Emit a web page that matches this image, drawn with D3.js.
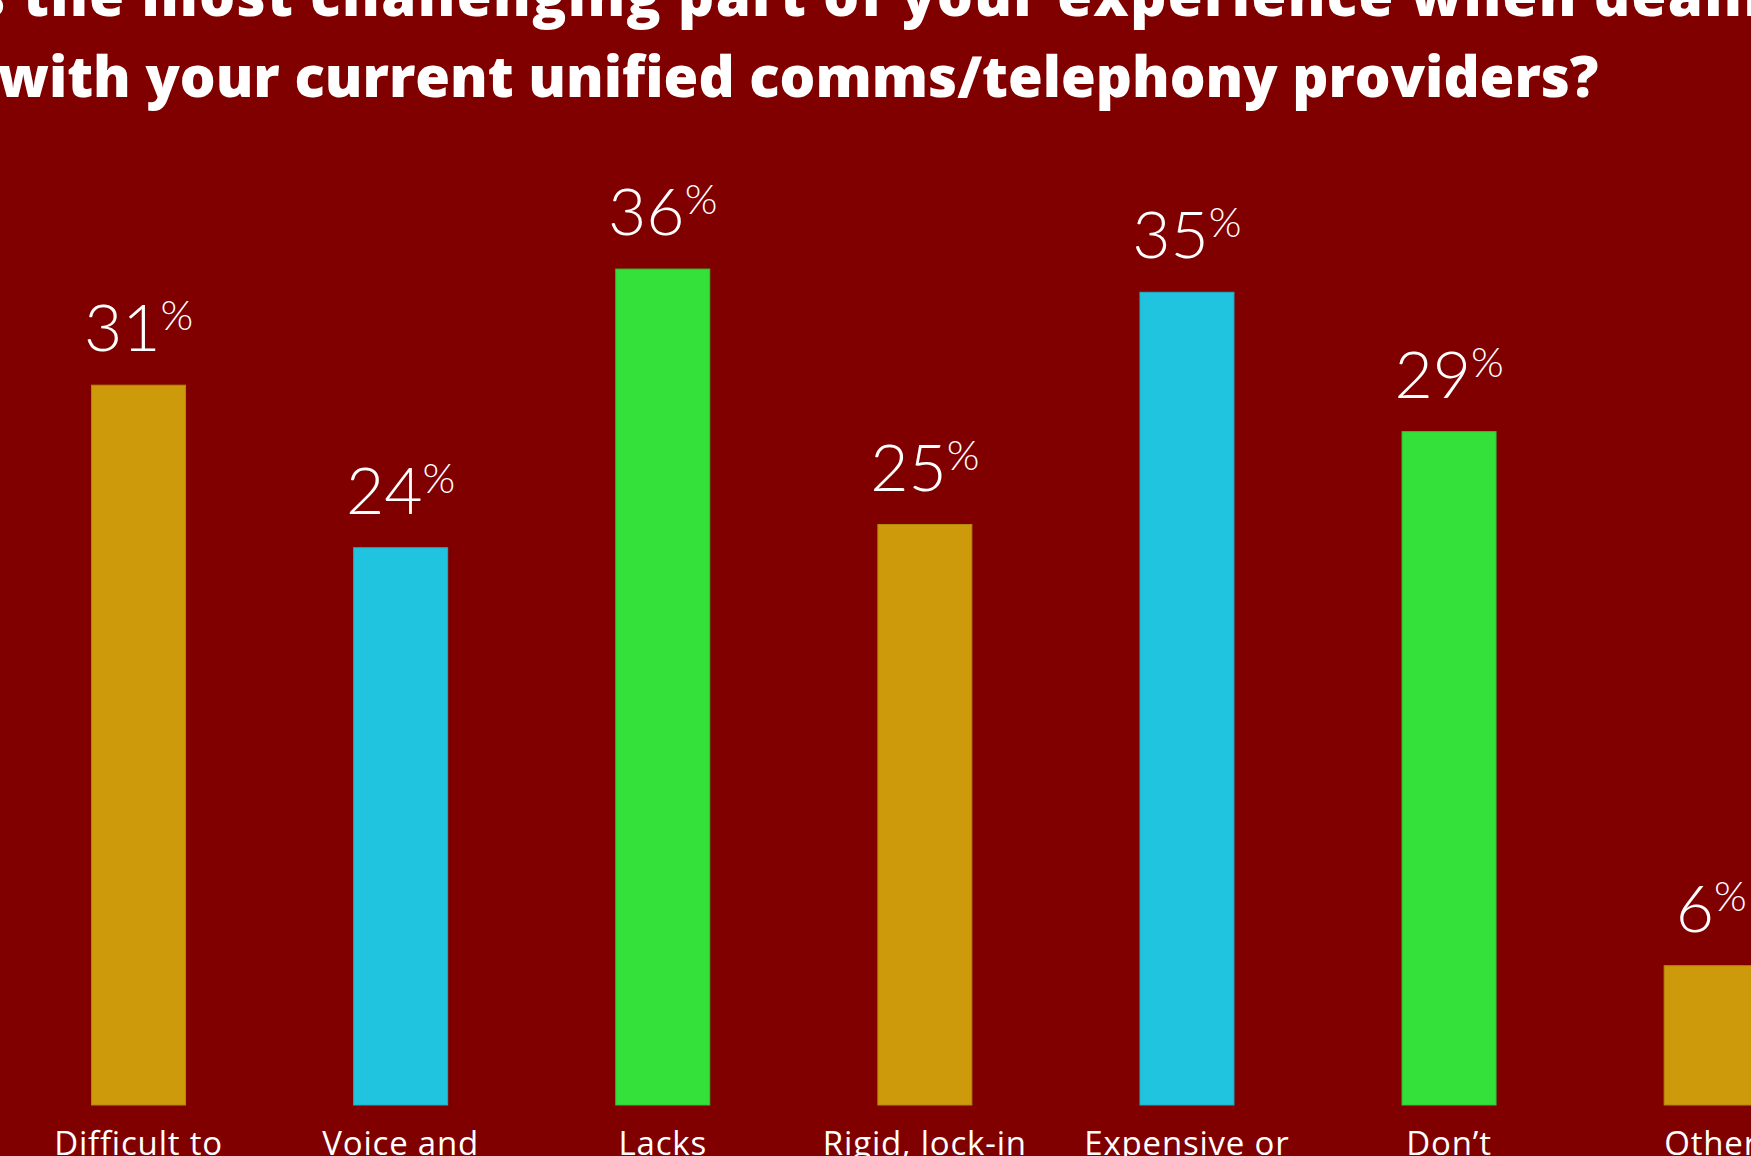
<!DOCTYPE html>
<html>
<head>
<meta charset="utf-8">
<script src="https://cdn.jsdelivr.net/npm/d3@7"></script>
<style>
  html, body { margin: 0; padding: 0; background: #800000; overflow: hidden; }
  svg { display: block; }
</style>
</head>
<body>
<script>
// Survey question, split over two lines
const titleLines = [
  "What is the most challenging part of your experience when dealing",
  "with your current unified comms/telephony providers?"
];

// Answer options (first line of each label) and share of respondents, in %
const categories = ["Difficult to", "Voice and", "Lacks", "Rigid, lock-in", "Expensive or", "Don\u2019t", "Other"];
const values = [31, 24, 36, 25, 35, 29, 6];

// Bar colours cycle gold / cyan / green
const palette = ["#CC9A0A", "#20C4DE", "#34E03A"];
const edge = ["#B5870A", "#1CAFC8", "#2CC832"];

const W = 1751, H = 1156;
const svg = d3.select("body").append("svg")
  .attr("width", W).attr("height", H);

svg.append("rect").attr("width", W).attr("height", H).attr("fill", "#800000");

// Horizontal band scale: 94px bars on a ~262px step
const x = d3.scaleBand()
  .domain(categories)
  .range([7.5, 7.5 + 7 * 262.1])
  .paddingInner(1 - 94 / 262.1)
  .paddingOuter((1 - 94 / 262.1) / 2);

const baseline = 1105;
const y = d3.scaleLinear()
  .domain([0, 40])
  .range([baseline, baseline - 40 * 23.22]);

// Title
const title = svg.append("g")
  .attr("font-family", "'Open Sans', Lato, sans-serif")
  .attr("font-weight", 800)
  .attr("fill", "#ffffff")
  .attr("text-anchor", "middle");

const titleText = title.selectAll("text")
  .data(titleLines)
  .join("text")
  .attr("x", 798)
  .attr("y", (d, i) => 16 + i * 81)
  .attr("font-size", 60)
  .attr("letter-spacing", (d, i) => i === 0 ? 1.4 : 0)
  .text(d => d);

// Fit the second line to its intended width
const l2 = titleText.nodes()[1];
const natural = l2.getComputedTextLength();
const fs = 60 * 1601 / natural;
titleText.attr("font-size", fs);

// Bars
svg.append("g").selectAll("rect")
  .data(values)
  .join("rect")
  .attr("x", (d, i) => x(categories[i]))
  .attr("y", d => y(d))
  .attr("width", x.bandwidth())
  .attr("height", d => baseline - y(d))
  .attr("fill", (d, i) => palette[i % 3])
  .attr("stroke", (d, i) => edge[i % 3])
  .attr("stroke-width", 1);

// Value labels with raised percent sign
const labels = svg.append("g")
  .attr("font-family", "Lato, 'Open Sans', sans-serif")
  .attr("font-weight", 300)
  .attr("fill", "#ffffff")
  .attr("text-anchor", "middle");

const lab = labels.selectAll("text")
  .data(values)
  .join("text")
  .attr("x", (d, i) => x(categories[i]) + x.bandwidth() / 2)
  .attr("y", d => y(d) - 34);

lab.append("tspan")
  .attr("font-size", 66)
  .text(d => d);
lab.append("tspan")
  .attr("font-size", 42)
  .attr("dy", -21)
  .text("%");

// Category labels along the bottom
svg.append("g")
  .attr("font-family", "'Open Sans', Lato, sans-serif")
  .attr("font-weight", 400)
  .attr("fill", "#ffffff")
  .attr("text-anchor", "middle")
  .selectAll("text")
  .data(categories)
  .join("text")
  .attr("x", d => x(d) + x.bandwidth() / 2)
  .attr("y", 1155)
  .attr("font-size", 33)
  .attr("letter-spacing", 0.8)
  .text(d => d);
</script>
</body>
</html>
